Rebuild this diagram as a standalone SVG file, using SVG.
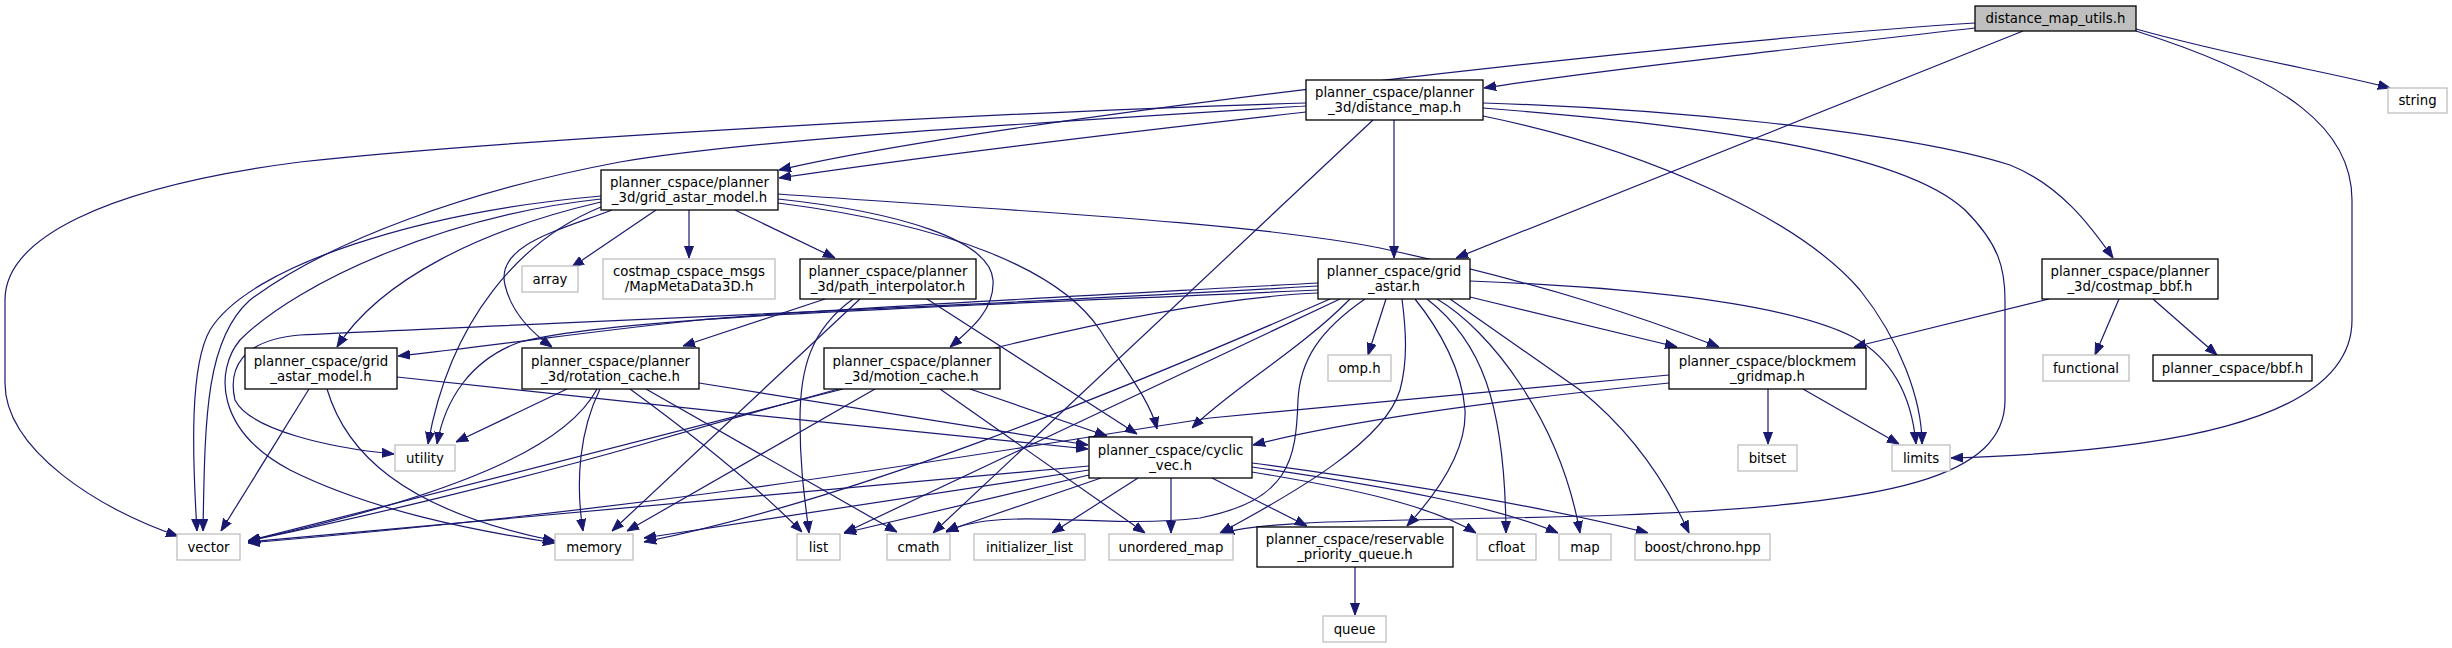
<svg xmlns="http://www.w3.org/2000/svg" width="2452" height="648" viewBox="0 0 2452 648">
<style>
.e path{fill:none;stroke:#191970;stroke-width:1.2;marker-end:url(#ah)}
.nd rect{fill:#fff;stroke:#000;stroke-width:1.3}
.ex rect{fill:#fff;stroke:#bfbfbf;stroke-width:1.3}
.rt rect{fill:#bfbfbf;stroke:#000;stroke-width:1.3}
text{font-family:"DejaVu Sans","Liberation Sans",sans-serif;font-size:13.3px;text-anchor:middle;fill:#000}
</style>
<defs>
<marker id="ah" markerUnits="userSpaceOnUse" markerWidth="12" markerHeight="10" viewBox="0 0 12 10" refX="12" refY="5" orient="auto">
<path d="M0,0.5 L12,5 L0,9.5 z" fill="#191970" stroke="#191970"/>
</marker>
</defs>
<rect width="2452" height="648" fill="#fff"/>
<g id="edges" class="e">
<path d="M1975,28 C1800,48 1600,70 1484,88"/>
<path d="M1975,23 C1700,40 1000,118 779,170"/>
<path d="M2023,31 L1456,258"/>
<path d="M2136,29 C2240,58 2330,72 2390,88"/>
<path d="M2136,31 C2290,80 2352,130 2352,200 L2352,320 C2352,425 2150,452 1951,458"/>
<path d="M1306,112 C1100,135 900,160 779,178"/>
<path d="M1306,103 C1000,112 500,140 300,162 C100,188 5,240 5,300 L5,383 C5,450 100,510 178,536"/>
<path d="M1306,106 C1000,125 750,140 620,162 C470,190 330,240 250,300 C205,340 205,420 203,531"/>
<path d="M1394,120 L1394,258"/>
<path d="M1373,120 L933,533"/>
<path d="M1483,103 C1650,108 1900,130 2010,165 C2060,185 2090,225 2113,258"/>
<path d="M1483,116 C1650,150 1800,220 1860,290 C1900,340 1922,400 1922,444"/>
<path d="M1483,108 C1700,125 1900,150 1965,210 C2000,245 2005,270 2005,300 L2005,400 C2005,475 1900,505 1620,515 C1400,522 1280,518 1222,533"/>
<path d="M656,210 L572,267"/>
<path d="M689,210 L689,258"/>
<path d="M735,210 L835,258"/>
<path d="M612,210 C560,230 495,245 505,285 C512,315 535,335 552,347"/>
<path d="M601,202 C480,230 380,280 337,347"/>
<path d="M601,207 C520,240 450,320 428,444"/>
<path d="M601,196 C420,212 250,265 210,330 C190,365 192,450 197,531"/>
<path d="M601,199 C450,215 300,280 240,340 C215,370 215,430 290,470 C370,510 470,530 555,543"/>
<path d="M778,194 C1000,210 1250,222 1380,248 C1550,285 1650,320 1719,347"/>
<path d="M778,199 C900,212 990,240 993,280 C995,310 970,330 950,347"/>
<path d="M778,203 C950,225 1060,270 1100,330 C1125,370 1150,400 1157,429"/>
<path d="M567,389 L456,442"/>
<path d="M597,389 C570,440 480,490 248,541"/>
<path d="M600,389 C580,430 575,480 583,531"/>
<path d="M630,389 C700,440 760,490 802,532"/>
<path d="M646,389 L897,532"/>
<path d="M699,383 L1088,445"/>
<path d="M309,389 L221,531"/>
<path d="M327,389 C345,450 400,510 555,541"/>
<path d="M397,377 C600,400 900,430 1088,449"/>
<path d="M843,389 L248,541"/>
<path d="M875,389 L627,531"/>
<path d="M940,389 L1145,533"/>
<path d="M970,389 L1107,436"/>
<path d="M825,299 L683,346"/>
<path d="M853,299 C810,330 800,370 800,420 C800,470 805,500 809,533"/>
<path d="M860,299 L612,531"/>
<path d="M927,299 L1137,434"/>
<path d="M1470,297 L1677,347"/>
<path d="M1470,281 C1650,288 1790,305 1853,337 C1895,360 1912,400 1916,444"/>
<path d="M1386,299 L1368,355"/>
<path d="M1365,299 C1320,330 1300,360 1298,400 C1296,460 1290,500 1200,518 C1100,530 1000,505 946,532"/>
<path d="M1402,299 C1406,330 1408,360 1400,390 C1385,440 1300,490 1220,533"/>
<path d="M1415,299 C1440,330 1462,370 1465,410 C1467,450 1440,490 1407,526"/>
<path d="M1427,299 C1480,340 1505,400 1506,533"/>
<path d="M1437,299 C1490,330 1560,420 1580,533"/>
<path d="M1450,299 L1580,390 C1630,430 1665,480 1689,533"/>
<path d="M1340,299 L844,533"/>
<path d="M1350,299 C1300,350 1230,390 1192,428"/>
<path d="M1318,283 C1100,295 800,310 700,320 C600,330 500,345 398,356"/>
<path d="M1318,286 C1000,305 500,325 300,335 C240,340 228,370 235,400 C250,430 330,448 394,454"/>
<path d="M1318,290 C1000,305 620,315 520,342 C470,360 445,400 437,444"/>
<path d="M1318,293 C1150,300 900,370 640,445 C500,485 350,520 248,541"/>
<path d="M1330,299 C1100,400 850,500 644,542"/>
<path d="M1089,466 L248,542"/>
<path d="M1089,470 L644,538"/>
<path d="M1089,475 L844,533"/>
<path d="M1101,478 L946,531"/>
<path d="M1138,478 L1052,533"/>
<path d="M1171,478 L1171,533"/>
<path d="M1212,478 L1307,526"/>
<path d="M1252,472 C1350,488 1430,505 1476,533"/>
<path d="M1252,467 C1400,488 1500,508 1558,533"/>
<path d="M1252,463 C1400,483 1550,508 1648,533"/>
<path d="M1355,567 L1355,615"/>
<path d="M1768,389 L1768,444"/>
<path d="M1803,389 L1899,444"/>
<path d="M1669,383 C1500,400 1350,420 1253,445"/>
<path d="M1669,375 L1210,418 C1000,450 700,505 248,543"/>
<path d="M2049,299 L1854,347"/>
<path d="M2119,299 L2095,355"/>
<path d="M2153,299 L2217,355"/>
</g>
<g id="n_dmu" class="rt"><rect x="1975" y="6" width="161" height="25"/><text x="2055.5" y="23">distance_map_utils.h</text></g>
<g id="n_distance_map" class="nd"><rect x="1306" y="80" width="177" height="40"/><text x="1394.5" y="97">planner_cspace/planner</text><text x="1394.5" y="112">_3d/distance_map.h</text></g>
<g id="n_gam3d" class="nd"><rect x="601" y="170" width="177" height="40"/><text x="689.5" y="187">planner_cspace/planner</text><text x="689.5" y="202">_3d/grid_astar_model.h</text></g>
<g id="n_string" class="ex"><rect x="2388" y="88" width="59" height="25"/><text x="2417.5" y="105">string</text></g>
<g id="n_limits" class="ex"><rect x="1892" y="445" width="58" height="26"/><text x="1921" y="462.5">limits</text></g>
<g id="n_grid_astar" class="nd"><rect x="1318" y="259" width="152" height="40"/><text x="1394" y="276">planner_cspace/grid</text><text x="1394" y="291">_astar.h</text></g>
<g id="n_costmap_bbf" class="nd"><rect x="2042" y="259" width="176" height="40"/><text x="2130" y="276">planner_cspace/planner</text><text x="2130" y="291">_3d/costmap_bbf.h</text></g>
<g id="n_vector" class="ex"><rect x="177" y="534" width="63" height="26"/><text x="208.5" y="551.5">vector</text></g>
<g id="n_memory" class="ex"><rect x="555" y="534" width="78" height="26"/><text x="594" y="551.5">memory</text></g>
<g id="n_array" class="ex"><rect x="522" y="266" width="56" height="26"/><text x="550" y="283.5">array</text></g>
<g id="n_msgs" class="ex"><rect x="603" y="259" width="172" height="40"/><text x="689" y="276">costmap_cspace_msgs</text><text x="689" y="291">/MapMetaData3D.h</text></g>
<g id="n_path_interpolator" class="nd"><rect x="800" y="259" width="176" height="40"/><text x="888" y="276">planner_cspace/planner</text><text x="888" y="291">_3d/path_interpolator.h</text></g>
<g id="n_cgam" class="nd"><rect x="245" y="348" width="152" height="41"/><text x="321" y="365.5">planner_cspace/grid</text><text x="321" y="380.5">_astar_model.h</text></g>
<g id="n_rotation_cache" class="nd"><rect x="522" y="348" width="177" height="41"/><text x="610.5" y="365.5">planner_cspace/planner</text><text x="610.5" y="380.5">_3d/rotation_cache.h</text></g>
<g id="n_motion_cache" class="nd"><rect x="824" y="348" width="176" height="41"/><text x="912" y="365.5">planner_cspace/planner</text><text x="912" y="380.5">_3d/motion_cache.h</text></g>
<g id="n_utility" class="ex"><rect x="395" y="445" width="60" height="26"/><text x="425" y="462.5">utility</text></g>
<g id="n_cyclic_vec" class="nd"><rect x="1089" y="437" width="163" height="41"/><text x="1170.5" y="454.5">planner_cspace/cyclic</text><text x="1170.5" y="469.5">_vec.h</text></g>
<g id="n_omp" class="ex"><rect x="1328" y="355" width="63" height="26"/><text x="1359.5" y="372.5">omp.h</text></g>
<g id="n_blockmem" class="nd"><rect x="1669" y="348" width="197" height="41"/><text x="1767.5" y="365.5">planner_cspace/blockmem</text><text x="1767.5" y="380.5">_gridmap.h</text></g>
<g id="n_bitset" class="ex"><rect x="1738" y="445" width="59" height="26"/><text x="1767.5" y="462.5">bitset</text></g>
<g id="n_functional" class="ex"><rect x="2043" y="355" width="86" height="26"/><text x="2086" y="372.5">functional</text></g>
<g id="n_bbf" class="nd"><rect x="2153" y="355" width="159" height="26"/><text x="2232.5" y="372.5">planner_cspace/bbf.h</text></g>
<g id="n_list" class="ex"><rect x="797" y="534" width="43" height="26"/><text x="818.5" y="551.5">list</text></g>
<g id="n_cmath" class="ex"><rect x="887" y="534" width="63" height="26"/><text x="918.5" y="551.5">cmath</text></g>
<g id="n_initializer_list" class="ex"><rect x="974" y="534" width="111" height="26"/><text x="1029.5" y="551.5">initializer_list</text></g>
<g id="n_unordered_map" class="ex"><rect x="1109" y="534" width="124" height="26"/><text x="1171" y="551.5">unordered_map</text></g>
<g id="n_rpq" class="nd"><rect x="1257" y="527" width="196" height="40"/><text x="1355" y="544">planner_cspace/reservable</text><text x="1355" y="559">_priority_queue.h</text></g>
<g id="n_cfloat" class="ex"><rect x="1477" y="534" width="59" height="26"/><text x="1506.5" y="551.5">cfloat</text></g>
<g id="n_map" class="ex"><rect x="1559" y="534" width="52" height="26"/><text x="1585" y="551.5">map</text></g>
<g id="n_boost_chrono" class="ex"><rect x="1635" y="534" width="135" height="26"/><text x="1702.5" y="551.5">boost/chrono.hpp</text></g>
<g id="n_queue" class="ex"><rect x="1323" y="616" width="63" height="26"/><text x="1354.5" y="633.5">queue</text></g>
</svg>
